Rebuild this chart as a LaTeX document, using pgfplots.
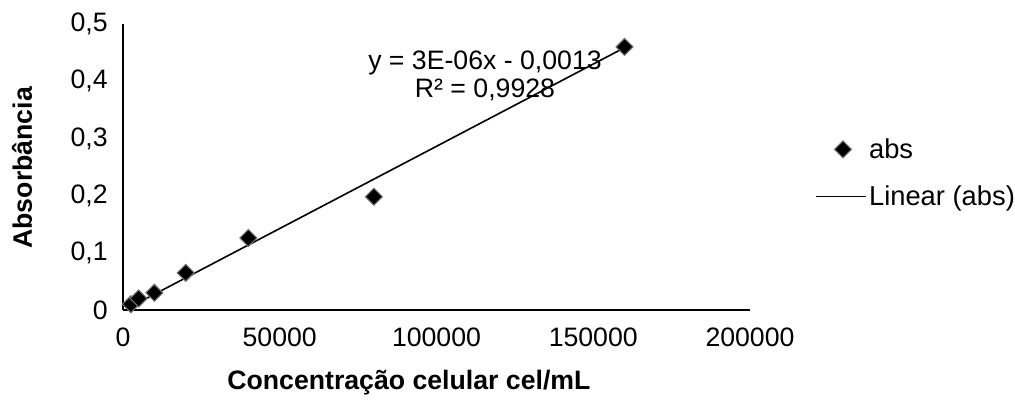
\documentclass[border=0pt]{standalone}
\usepackage{fontspec}
\setmainfont{Liberation Sans}
\usepackage{pgfplots}
\pgfplotsset{compat=1.18}
\pgfplotsset{
  markleg/.style={legend image code/.code={\draw[##1] plot coordinates {(20pt,0pt)};}},
  lineleg/.style={legend image code/.code={\draw[##1] (0pt,0pt) -- (37pt,0pt);}},
}
\begin{document}
\begin{tikzpicture}[x=0.75pt,y=0.75pt]
\begin{axis}[
  at={(0,0)}, anchor=south west,
  width=470.25pt, height=214.5pt, scale only axis,
  xmin=0, xmax=200000, ymin=0, ymax=0.5,
  axis lines*=left, axis line style={black, line width=1.4pt, -},
  xtick={0,50000,100000,150000,200000},
  ytick={0,0.1,0.2,0.3,0.4,0.5},
  major tick length=0pt,
  scaled x ticks=false, scaled y ticks=false,
  xticklabel style={/pgf/number format/fixed, /pgf/number format/1000 sep={}, yshift=-10pt},
  yticklabel style={/pgf/number format/fixed, /pgf/number format/precision=1, /pgf/number format/use comma, xshift=-8pt},
  /pgf/number format/assume math mode=true,
  tick label style={font=\fontsize{20}{24}\selectfont},
  xlabel={\bfseries Concentração celular cel/mL},
  xlabel style={at={(axis description cs:0.456,-0.255)}, anchor=center, font=\fontsize{20}{24}\selectfont},
  ylabel={\bfseries Absorbância},
  ylabel style={at={(axis description cs:-0.161,0.497)}, anchor=center, font=\fontsize{20}{24}\selectfont},
  clip=false,
  legend style={at={(axis description cs:1.104,0.61)}, anchor=north west, draw=none, fill=none, font=\fontsize{20.5}{24}\selectfont, row sep=15pt, inner sep=0pt},
  legend cell align=left,
]
\addplot[only marks, mark=square*, mark size=4.5pt, mark options={rotate=45, fill=black, draw=black!55, line width=0.8pt}, markleg]
  coordinates {(2500,0.010) (5000,0.020) (10000,0.030) (20000,0.065) (40000,0.126) (80000,0.198) (160000,0.460)};
\addlegendentry{abs}
\addplot[black, line width=1.2pt, no marks, lineleg]
  coordinates {(2500,0.0059) (160000,0.4587)};
\addlegendentry{Linear (abs)}
\node[align=center, font=\fontsize{20}{21}\selectfont, inner sep=0pt] at (axis cs:115470,0.41) {y = 3E-06x - 0,0013\\R² = 0,9928};
\end{axis}
\pgfresetboundingbox
\path (-123,-96) rectangle (892,310);
\end{tikzpicture}
\end{document}
